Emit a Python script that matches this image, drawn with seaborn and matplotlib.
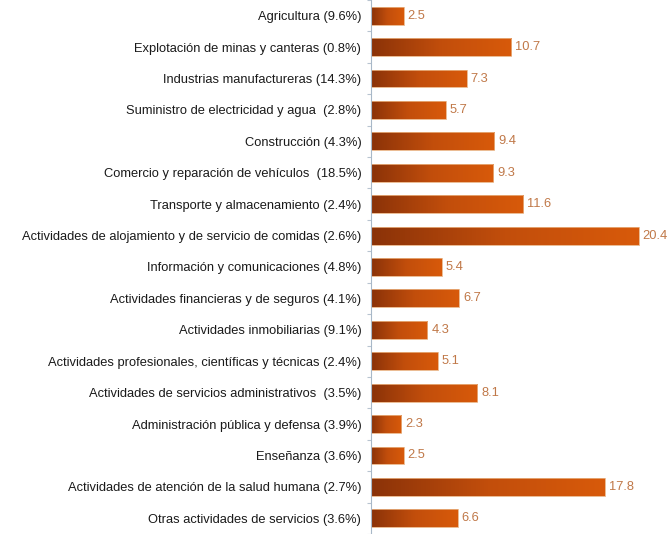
import matplotlib
matplotlib.use("Agg")
import matplotlib.pyplot as plt
import seaborn as sns
import numpy as np
import pandas as pd
from matplotlib.colors import LinearSegmentedColormap

categories = [
    "Agricultura (9.6%)",
    "Explotación de minas y canteras (0.8%)",
    "Industrias manufactureras (14.3%)",
    "Suministro de electricidad y agua  (2.8%)",
    "Construcción (4.3%)",
    "Comercio y reparación de vehículos  (18.5%)",
    "Transporte y almacenamiento (2.4%)",
    "Actividades de alojamiento y de servicio de comidas (2.6%)",
    "Información y comunicaciones (4.8%)",
    "Actividades financieras y de seguros (4.1%)",
    "Actividades inmobiliarias (9.1%)",
    "Actividades profesionales, científicas y técnicas (2.4%)",
    "Actividades de servicios administrativos  (3.5%)",
    "Administración pública y defensa (3.9%)",
    "Enseñanza (3.6%)",
    "Actividades de atención de la salud humana (2.7%)",
    "Otras actividades de servicios (3.6%)",
]
values = [2.5, 10.7, 7.3, 5.7, 9.4, 9.3, 11.6, 20.4, 5.4, 6.7, 4.3, 5.1, 8.1, 2.3, 2.5, 17.8, 6.6]

sns.set_theme(style="white")
plt.rcParams['font.family'] = ['Liberation Sans', 'DejaVu Sans']

df = pd.DataFrame({"cat": categories, "val": values})

fig = plt.figure(figsize=(6.69, 5.34), dpi=100)
ax = fig.add_axes([371/669, 0.0, 1 - 371/669, 1.0])
sns.barplot(data=df, y="cat", x="val", orient="h", color="#C2500C", width=0.57, ax=ax,
            saturation=1)

cmap = LinearSegmentedColormap.from_list("g", ["#8A3208", "#C24E0C", "#D85A0A"])
grad = np.linspace(0, 1, 256).reshape(1, -1)
for p in ax.patches:
    x0, y0 = p.get_x(), p.get_y()
    w, h = p.get_width(), p.get_height()
    p.set_facecolor("none")
    p.set_edgecolor("#E8B080")
    p.set_linewidth(0.6)
    im = ax.imshow(grad, extent=[x0, x0 + w, y0 + h, y0], cmap=cmap, aspect="auto",
                   zorder=p.get_zorder() - 0.1, interpolation="bicubic")
    im.set_clip_path(p)

for i, v in enumerate(values):
    ax.text(v + 0.3, i, f"{v:.1f}", va="center", ha="left", fontsize=9.3,
            color="#C07848", clip_on=False)

ax.set_xlim(0, 22.7)
ax.set_ylim(16.5, -0.5)
ax.set_xlabel("")
ax.set_ylabel("")
ax.set_xticks([])
for s in ["top", "right", "bottom"]:
    ax.spines[s].set_visible(False)
ax.spines["left"].set_color("#A8B8C8")
ax.spines["left"].set_linewidth(0.8)
ax.tick_params(axis="y", which="major", length=0, pad=7, labelsize=9.3, labelcolor="#1a1a1a")
ax.set_yticks(np.arange(-0.5, 17, 1), minor=True)
ax.tick_params(axis="y", which="minor", length=3, color="#B8C4D0", width=0.8, left=True)

fig.savefig("out.png", dpi=100)
